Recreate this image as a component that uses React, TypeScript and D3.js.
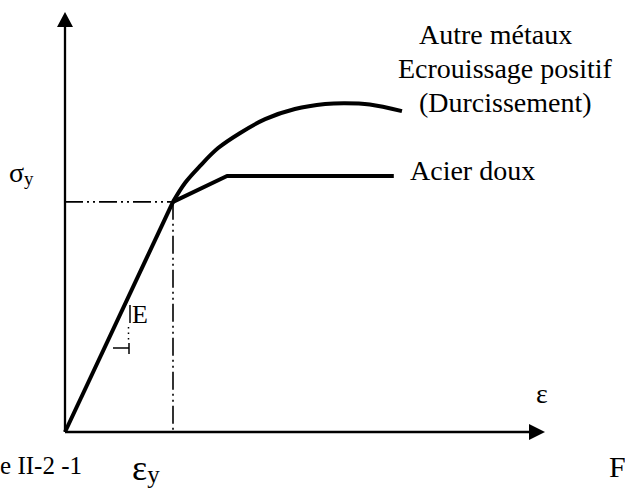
import React from "react";
import * as d3 from "d3";

// Data (arbitrary strain / stress units)
const yieldPoint = { x: 22.5, y: 54.8 };
const elasticLine = [
  { x: 0, y: 0 },
  { x: 22.5, y: 54.8 },
];
const acierDoux = [
  { x: 22.5, y: 54.8 },
  { x: 33.75, y: 60.95 },
  { x: 68.5, y: 60.95 },
];
const autreMetaux = [
  { x: 22.5, y: 54.8 },
  { x: 25.0, y: 59.3 },
  { x: 28.1, y: 63.3 },
  { x: 31.9, y: 67.6 },
  { x: 36.5, y: 71.2 },
  { x: 41.7, y: 74.5 },
  { x: 47.9, y: 76.9 },
  { x: 54.2, y: 78.1 },
  { x: 58.3, y: 78.3 },
  { x: 63.5, y: 78.0 },
  { x: 70.2, y: 76.4 },
];
const labelsAutre = ["Autre métaux", "Ecrouissage positif", "(Durcissement)"];
const labelAcier = "Acier doux";
const captionLeft = "e II-2 -1";
const captionRight = "F";

const W = 625;
const H = 490;
const x = d3.scaleLinear().domain([0, 100]).range([65, 545]);
const y = d3.scaleLinear().domain([0, 100]).range([432, 12]);

const line = d3
  .line<{ x: number; y: number }>()
  .x((d) => x(d.x))
  .y((d) => y(d.y));
const curve = d3
  .line<{ x: number; y: number }>()
  .x((d) => x(d.x))
  .y((d) => y(d.y))
  .curve(d3.curveCatmullRom.alpha(0.5));

const font = "'Liberation Serif', 'Times New Roman', serif";
const dash = "18,4,2,4,2,4";

export default function App() {
  const x0 = x(0);
  const y0 = y(0);
  const xEnd = x(100);
  const yTop = y(100);
  const yx = x(yieldPoint.x);
  const yy = y(yieldPoint.y);
  return (
    <svg
      width={W}
      height={H}
      style={{ position: "absolute", left: 0, top: 0, background: "#fff" }}
      fontFamily={font}
    >
      {/* reference dash-dot lines */}
      <line x1={x0} y1={yy} x2={yx} y2={yy} stroke="#000" strokeWidth={1.6} strokeDasharray={dash} />
      <line x1={yx} y1={yy} x2={yx} y2={y0} stroke="#000" strokeWidth={1.6} strokeDasharray={dash} />

      {/* axes */}
      <line x1={x0} y1={y0} x2={x0} y2={yTop + 15} stroke="#000" strokeWidth={2.3} />
      <path d={`M${x0 - 8},${yTop + 15} L${x0 + 8},${yTop + 15} L${x0},${yTop} Z`} fill="#000" />
      <line x1={x0} y1={y0} x2={xEnd - 16} y2={y0} stroke="#000" strokeWidth={2.3} />
      <path d={`M${xEnd - 16},${y0 - 8} L${xEnd - 16},${y0 + 8} L${xEnd},${y0} Z`} fill="#000" />

      {/* curves */}
      <path d={line(elasticLine) || ""} fill="none" stroke="#000" strokeWidth={4} />
      <path d={line(acierDoux) || ""} fill="none" stroke="#000" strokeWidth={4} strokeLinejoin="round" />
      <path d={curve(autreMetaux) || ""} fill="none" stroke="#000" strokeWidth={4} />

      {/* slope marker */}
      <line x1={130} y1={305} x2={130} y2={323} stroke="#000" strokeWidth={1.5} />
      <text x={132} y={323} fontSize={26}>E</text>
      <line x1={128.5} y1={327} x2={128.5} y2={341} stroke="#000" strokeWidth={1.5} strokeDasharray="1.5,4" />
      <line x1={113} y1={348} x2={129} y2={348} stroke="#000" strokeWidth={1.5} />
      <line x1={129} y1={343} x2={129} y2={354} stroke="#000" strokeWidth={1.5} />

      {/* labels */}
      <text x={419} y={44} fontSize={28}>{labelsAutre[0]}</text>
      <text x={398} y={78} fontSize={28}>{labelsAutre[1]}</text>
      <text x={419} y={112} fontSize={28}>{labelsAutre[2]}</text>
      <text x={410} y={180} fontSize={28}>{labelAcier}</text>

      <text x={9} y={182} fontSize={28}>
        σ<tspan fontSize={19} dy={3}>y</tspan>
      </text>
      <text x={536} y={403} fontSize={28}>ε</text>
      <text x={132} y={480} fontSize={36}>
        ε<tspan fontSize={25} dy={3}>y</tspan>
      </text>

      <text x={82} y={474} fontSize={25} textAnchor="end">{captionLeft}</text>
      <text x={609} y={477} fontSize={30}>{captionRight}</text>
    </svg>
  );
}
